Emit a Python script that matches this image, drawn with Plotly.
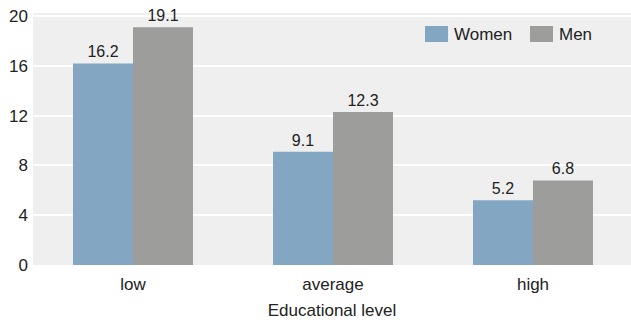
import plotly.graph_objects as go

categories = ["low", "average", "high"]
women = [16.2, 9.1, 5.2]
men = [19.1, 12.3, 6.8]
series_names = ["Women", "Men"]
y_ticks = [0, 4, 8, 12, 16, 20]
x_title = "Educational level"

colors = ["#83a7c3", "#9d9d9c"]
font_family = "Liberation Sans, Arial, sans-serif"

fig = go.Figure()
for name, vals, col in zip(series_names, [women, men], colors):
    fig.add_trace(go.Bar(
        x=categories, y=vals, name=name, marker=dict(color=col, line=dict(width=0)),
        text=[f"{v:.1f}" for v in vals], textposition="outside",
        textfont=dict(size=16, color="#222222", family=font_family),
        cliponaxis=False, showlegend=False,
    ))

# manual legend
leg_x = [425, 530]
for i, (name, col) in enumerate(zip(series_names, colors)):
    x0 = leg_x[i]
    fig.add_shape(type="rect", xref="paper", yref="paper",
                  x0=(x0 - 33) / 598, x1=(x0 + 23 - 33) / 598,
                  y0=1 - (42 - 13) / 252, y1=1 - (26 - 13) / 252,
                  fillcolor=col, line=dict(width=0), layer="above")
    fig.add_annotation(xref="paper", yref="paper", x=(x0 + 27 - 33) / 598,
                       y=1 - (34 - 13) / 252, text=name, showarrow=False,
                       xanchor="left", yanchor="middle",
                       font=dict(size=17, color="#222222", family=font_family))

fig.update_layout(
    width=631, height=320,
    margin=dict(l=33, r=0, t=13, b=55),
    paper_bgcolor="white", plot_bgcolor="#efefef",
    barmode="group", bargap=0.4, bargroupgap=0,
    font=dict(family=font_family, size=17, color="#222222"),
    xaxis=dict(range=[-0.5, 2.49], showgrid=False, zeroline=False,
               ticks="", tickfont=dict(size=17), automargin=False,
               ticklabelstandoff=7,
               title=dict(text=x_title, font=dict(size=17), standoff=15)),
    yaxis=dict(range=[0, 20.25], tickvals=y_ticks, showgrid=True,
               gridcolor="white", gridwidth=2, zeroline=False, automargin=False,
               ticks="", tickfont=dict(size=17), ticklabelstandoff=4),
)

fig.write_html("out.html", config={"displayModeBar": False},
               post_script="document.body.style.margin='0';document.body.style.overflow='hidden';")
